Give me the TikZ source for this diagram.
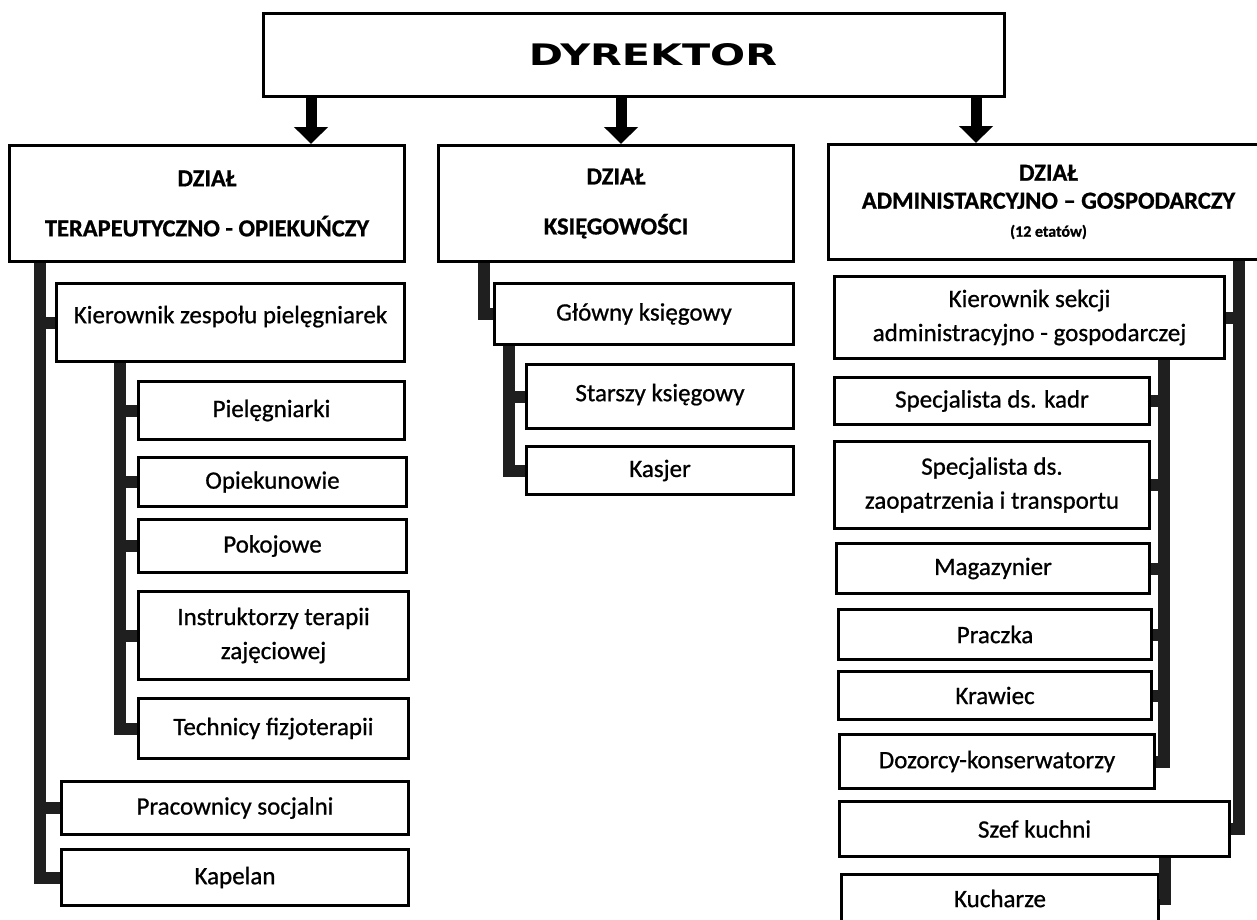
\documentclass[tikz,border=0pt]{standalone}
\usepackage{graphicx}
\usepackage{fontspec}
\setmainfont{Carlito}[FakeBold=0.8]
\newfontfamily\hdfont[FakeBold=0.8]{Carlito}
\newfontfamily\dirfont{DejaVu Sans}
\usetikzlibrary{arrows.meta}
\begin{document}
\begin{tikzpicture}[x=1pt,y=-1pt,
  box/.style={draw=black, line width=3pt, fill=white, inner sep=0pt, align=center,
              anchor=north west, font=\fontsize{25}{34}\selectfont},
  hbox/.style={box, font=\hdfont\bfseries\fontsize{24.5}{50}\selectfont},
  bar/.style={line width=12pt, draw=black!88},
  bigarrow/.style={line width=11pt, draw=black, -{Triangle[width=33pt,length=17pt]}}]
\useasboundingbox[fill=white] (0,0) rectangle (1257,919);

% top
\node[box, minimum width=741pt, minimum height=83pt] (D) at (262,12)
  {\hspace*{38pt}\resizebox{248pt}{22pt}{\dirfont\bfseries DYREKTOR}};

% department headers
\node[hbox, minimum width=395pt, minimum height=116pt] (L) at (8,144)
  {DZIAŁ\\TERAPEUTYCZNO - OPIEKUŃCZY};
\node[hbox, minimum width=355pt, minimum height=116pt] (M) at (437,144)
  {DZIAŁ\\KSIĘGOWOŚCI};
\node[hbox, font=\hdfont\bfseries\fontsize{24.5}{28}\selectfont,
      minimum width=440pt, minimum height=115pt] (R) at (827,143)
  {DZIAŁ\\ADMINISTARCYJNO – GOSPODARCZY\\{\fontsize{16}{16}\selectfont(12 etatów)}};

% left column
\node[box, minimum width=348pt, minimum height=78pt] (K1) at (55,282) {Kierownik zespołu pielęgniarek\rule[-16pt]{0pt}{0pt}};
\node[box, minimum width=266pt, minimum height=58pt] (P1) at (137,380) {Pielęgniarki};
\node[box, minimum width=268pt, minimum height=49pt] (P2) at (137,456) {Opiekunowie};
\node[box, minimum width=268pt, minimum height=53pt] (P3) at (137,518) {Pokojowe};
\node[box, minimum width=270pt, minimum height=88pt] (P4) at (137,590) {Instruktorzy terapii\\zajęciowej};
\node[box, minimum width=270pt, minimum height=60pt] (P5) at (137,697) {Technicy fizjoterapii};
\node[box, minimum width=347pt, minimum height=53pt] (L2) at (60,780) {Pracownicy socjalni};
\node[box, minimum width=347pt, minimum height=56pt] (L3) at (60,848) {Kapelan};

% middle column
\node[box, minimum width=299pt, minimum height=61pt] (G) at (493,282) {Główny księgowy};
\node[box, minimum width=267pt, minimum height=64pt] (S1) at (525,363) {Starszy księgowy\rule[-8pt]{0pt}{0pt}};
\node[box, minimum width=267pt, minimum height=48pt] (S2) at (525,445) {Kasjer};

% right column
\node[box, minimum width=390pt, minimum height=82pt] (KS) at (833,275) {Kierownik sekcji\\administracyjno - gospodarczej};
\node[box, minimum width=315pt, minimum height=47pt] (R1) at (833,376) {Specjalista ds. kadr};
\node[box, minimum width=315pt, minimum height=87pt] (R2) at (833,440) {Specjalista ds.\\zaopatrzenia i transportu};
\node[box, minimum width=313pt, minimum height=50pt] (R3) at (835,542) {Magazynier};
\node[box, minimum width=313pt, minimum height=50pt] (R4) at (837,608) {Praczka};
\node[box, minimum width=313pt, minimum height=48pt] (R5) at (837,670) {Krawiec};
\node[box, minimum width=315pt, minimum height=54pt] (R6) at (838,733) {Dozorcy-konserwatorzy};
\node[box, minimum width=390pt, minimum height=55pt] (R7) at (838,800) {Szef kuchni};
\node[box, minimum width=317pt, minimum height=48pt] (R8) at (840,873) {Kucharze};

% arrows from the director
\coordinate (a1) at (311,0);
\coordinate (a2) at (621,0);
\coordinate (a3) at (976,0);
\draw[bigarrow] (D.south -| a1) -- (L.north -| a1);
\draw[bigarrow] (D.south -| a2) -- (M.north -| a2);
\draw[bigarrow] (D.south -| a3) -- (R.north -| a3);

% connector bars
\coordinate (xa) at (40,0);
\coordinate (xb) at (120,0);
\coordinate (xm) at (484,0);
\coordinate (xn) at (509,0);
\coordinate (xr) at (1239,0);
\coordinate (xs) at (1164,0);
\coordinate (xk) at (1165,0);

\draw[bar] (L.south -| xa) |- (L3.west);
\draw[bar] (K1.west -| xa) -- (K1.west);
\draw[bar] (L2.west -| xa) -- (L2.west);

\draw[bar] (K1.south -| xb) |- (P5.west);
\foreach \n in {P1,P2,P3,P4} \draw[bar] (\n.west -| xb) -- (\n.west);

\draw[bar] (M.south -| xm) |- (G.west);
\draw[bar] (G.south -| xn) |- (S2.west);
\draw[bar] (S1.west -| xn) -- (S1.west);

\draw[bar] (R.south -| xr) |- (R7.east);
\draw[bar] (KS.east -| xr) -- (KS.east);
\draw[bar] (KS.south -| xs) |- (R6.east);
\foreach \n in {R1,R2,R3,R4,R5} \draw[bar] (\n.east -| xs) -- (\n.east);
\draw[bar] (R7.south -| xk) |- (R8.east);
\end{tikzpicture}
\end{document}
